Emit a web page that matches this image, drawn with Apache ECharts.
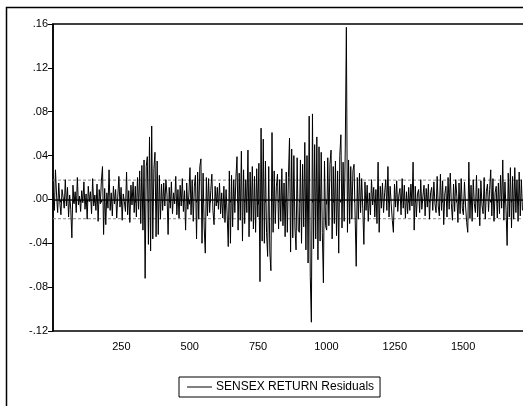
<!DOCTYPE html>
<html>
<head>
<meta charset="utf-8">
<script src="https://cdn.jsdelivr.net/npm/echarts@6/dist/echarts.min.js"></script>
<style>
  html, body { margin: 0; padding: 0; background: #fff; }
  #chart { width: 523px; height: 406px; }
</style>
</head>
<body>
<div id="chart"></div>
<script>
// Residuals of the SENSEX return equation, one value every 4 observations
const firstObs = 1;
const obsStep = 4;
const residuals = [
  0.006, -0.010, 0.027, 0.004, -0.012, 0.015, -0.003, -0.014, 0.009, 0.002, -0.008, 0.018, -0.006, 0.011, -0.016, 0.004, -0.009, -0.035, 0.013, -0.004, 0.007, -0.012, 0.020, -0.005, 0.003,
  -0.011, 0.008, -0.003, 0.016, -0.009, 0.005, -0.018, 0.012, -0.002, 0.007, -0.013, 0.019, -0.006, 0.004, -0.010, 0.014, -0.020, 0.009, -0.004, 0.017, 0.030, -0.032, 0.010, -0.023, 0.006,
  -0.008, 0.027, -0.010, 0.006, -0.015, 0.012, -0.004, 0.009, -0.017, 0.003, 0.021, -0.007, 0.011, -0.019, 0.005, -0.002, -0.011, 0.025, -0.014, 0.008, -0.021, 0.013, -0.005, 0.016, -0.012,
  0.012, -0.016, 0.020, -0.009, 0.026, -0.022, 0.031, -0.028, 0.036, -0.072, 0.030, 0.039, -0.041, 0.057, -0.047, 0.067, -0.036, 0.028, 0.043, -0.034, 0.035, -0.032, 0.022, -0.018, 0.014,
  -0.010, 0.015, -0.006, 0.018, 0.004, -0.032, 0.011, -0.008, 0.016, -0.013, 0.006, -0.004, 0.021, -0.014, 0.009, -0.017, 0.013, -0.006, 0.019, -0.011, 0.008, -0.028, 0.015, -0.009, 0.004,
  0.029, -0.014, 0.018, -0.020, 0.012, 0.022, -0.036, 0.025, -0.018, 0.030, 0.037, -0.040, 0.024, -0.026, -0.049, 0.020, -0.015, 0.019, -0.012, 0.008, 0.023, -0.010, -0.023, 0.012, -0.006,
  0.011, -0.009, 0.015, -0.013, 0.006, -0.017, 0.012, -0.021, 0.009, -0.014, -0.043, 0.026, -0.040, 0.022, -0.025, 0.018, -0.012, 0.020, 0.039, -0.028, 0.024, -0.019, 0.044, -0.038, 0.027,
  -0.022, 0.018, -0.012, 0.045, -0.034, 0.025, -0.020, 0.030, -0.027, 0.021, -0.030, 0.028, -0.016, 0.033, -0.075, 0.065, -0.038, 0.055, -0.040, 0.035, -0.030, -0.052, 0.030, -0.048, -0.065,
  0.061, -0.030, 0.026, -0.022, 0.012, 0.023, -0.027, 0.018, -0.020, 0.028, -0.024, 0.015, -0.034, 0.025, -0.030, 0.020, 0.056, -0.048, 0.046, -0.035, 0.040, -0.026, -0.046, 0.038, -0.028,
  -0.030, 0.036, -0.040, 0.032, -0.025, 0.052, -0.046, 0.040, -0.058, 0.076, -0.070, -0.112, 0.078, -0.045, 0.050, -0.036, 0.057, -0.055, 0.048, -0.038, 0.043, -0.030, -0.076, 0.035, -0.024,
  -0.028, 0.038, -0.024, 0.032, 0.045, -0.036, 0.030, -0.022, 0.035, -0.033, 0.026, -0.049, 0.040, 0.059, -0.026, 0.034, -0.020, 0.047, 0.157, -0.030, 0.036, -0.022, 0.030, -0.018, 0.026,
  0.032, -0.015, -0.061, 0.020, -0.018, 0.024, -0.012, 0.019, -0.008, -0.041, 0.016, -0.010, 0.013, -0.020, 0.006, -0.014, 0.018, -0.005, 0.011, -0.016, 0.009, -0.022, 0.034, -0.030, 0.012,
  -0.008, 0.015, -0.012, 0.006, 0.018, -0.010, 0.030, -0.016, 0.012, -0.004, -0.019, -0.030, 0.014, -0.007, 0.017, -0.011, 0.004, 0.010, -0.014, 0.019, -0.008, 0.013, -0.017, 0.007, -0.013,
  0.011, -0.010, 0.014, -0.006, 0.034, -0.028, 0.012, -0.016, 0.005, 0.009, -0.012, 0.018, -0.009, 0.003, 0.013, -0.015, 0.010, -0.007, 0.014, -0.018, 0.006, 0.011, -0.010, 0.016, -0.004,
  -0.012, 0.021, -0.006, -0.015, 0.023, -0.010, 0.017, -0.023, 0.005, 0.012, -0.016, 0.020, -0.009, 0.024, -0.004, -0.019, 0.014, -0.011, 0.018, 0.003, -0.021, 0.015, -0.013, 0.019, -0.008,
  -0.014, 0.016, -0.006, -0.021, -0.030, 0.034, -0.017, 0.013, -0.020, 0.018, -0.004, -0.012, 0.022, -0.016, 0.010, -0.024, 0.017, -0.005, -0.013, 0.020, -0.018, 0.007, 0.014, -0.011, 0.009,
  0.027, -0.015, 0.019, -0.020, 0.006, 0.012, -0.017, 0.015, -0.013, 0.022, -0.008, 0.036, -0.019, 0.016, -0.010, -0.042, 0.024, -0.016, 0.029, -0.026, 0.021, -0.018, 0.029, -0.012, 0.018,
  -0.020, 0.025, -0.015, 0.018, -0.010
];

// Standard-error band drawn around zero
const seBand = 0.0176;

// Axis ranges and ticks
const xMin = 0, xMax = 1730, xInterval = 250;
const yMin = -0.12, yMax = 0.16, yInterval = 0.04;
const seriesName = 'SENSEX RETURN Residuals';

const font = "'Liberation Sans', Arial, sans-serif";

const residualData = residuals.map((v, i) => [firstObs + i * obsStep, v]);
const hLine = (y) => [[xMin, y], [xMax, y]];

const chart = echarts.init(document.getElementById('chart'), null, { renderer: 'canvas' });

chart.setOption({
  animation: false,
  backgroundColor: '#fff',
  textStyle: { fontFamily: font },
  graphic: [{
    type: 'rect',
    shape: { x: 6.5, y: 7.5, width: 540, height: 420 },
    style: { fill: 'none', stroke: '#000', lineWidth: 1.5 },
    silent: true,
    z: 100
  }],
  grid: {
    left: 53, top: 24, width: 473, height: 307,
    outerBoundsMode: 'none',
    containLabel: false,
    show: true, borderColor: '#000', borderWidth: 1.5, backgroundColor: '#fff'
  },
  legend: {
    data: [{ name: seriesName, icon: 'rect' }],
    left: 179, top: 377,
    padding: [4, 6, 4, 8],
    borderColor: '#000', borderWidth: 1,
    itemWidth: 25, itemHeight: 1, itemGap: 6,
    itemStyle: { color: '#000' },
    textStyle: { fontSize: 12, color: '#000', fontFamily: font, padding: [0, 0, 0, -1] },
    selectedMode: false
  },
  xAxis: {
    type: 'value',
    min: xMin, max: xMax, interval: xInterval,
    axisLine: { show: true, lineStyle: { color: '#000', width: 1.5 } },
    axisTick: { show: true, length: 5, lineStyle: { color: '#000' } },
    minorTick: { show: true, splitNumber: 10, length: 3, lineStyle: { color: '#000' } },
    splitLine: { show: false },
    axisLabel: {
      margin: 10, fontSize: 11, color: '#000', fontFamily: font,
      formatter: (v) => (v > 0 && v % xInterval === 0) ? String(v) : ''
    }
  },
  yAxis: {
    type: 'value',
    min: yMin, max: yMax, interval: yInterval,
    axisLine: { show: true, lineStyle: { color: '#000', width: 1.5 } },
    axisTick: { show: true, length: 5, lineStyle: { color: '#000' } },
    splitLine: { show: false },
    axisLabel: {
      margin: 5, fontSize: 11, color: '#000', fontFamily: font,
      formatter: (v) => {
        const r = Math.round(v * 100) / 100;
        const s = Math.abs(r).toFixed(2).replace(/^0/, '');
        return (r < 0 ? '-' : '') + s;
      }
    }
  },
  series: [
    {
      name: 'upper band', type: 'line', data: hLine(seBand), symbol: 'none', silent: true, z: 1,
      lineStyle: { color: '#8a8a8a', width: 1, type: [3, 2] }
    },
    {
      name: 'lower band', type: 'line', data: hLine(-seBand), symbol: 'none', silent: true, z: 1,
      lineStyle: { color: '#8a8a8a', width: 1, type: [3, 2] }
    },
    {
      name: 'zero', type: 'line', data: hLine(0), symbol: 'none', silent: true, z: 1,
      lineStyle: { color: '#555', width: 1 }
    },
    {
      name: seriesName, type: 'line', data: residualData,
      symbol: 'none', showSymbol: false, z: 2,
      lineStyle: { color: '#000', width: 1 },
      itemStyle: { color: '#000' }
    }
  ]
});
</script>
</body>
</html>
